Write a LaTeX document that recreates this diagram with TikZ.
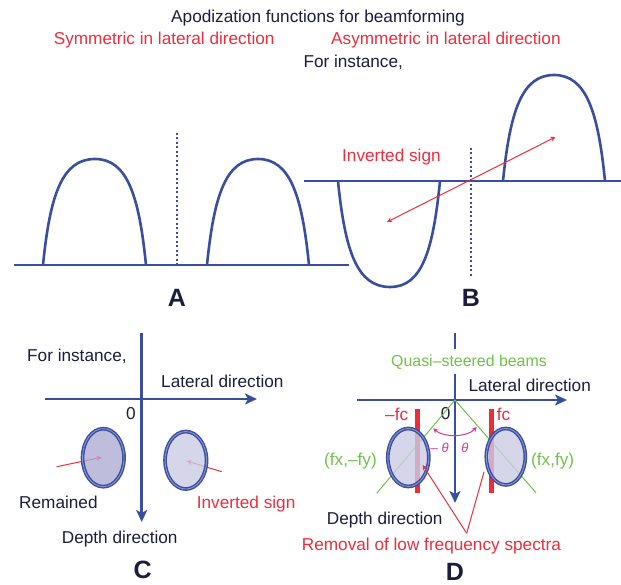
\documentclass[tikz,border=0pt]{standalone}
\usepackage{fontspec}
\setmainfont{Liberation Sans}
\usetikzlibrary{arrows.meta,shapes.geometric}
\definecolor{navy}{HTML}{1C1C3C}
\definecolor{myblue}{HTML}{3A4D9F}
\definecolor{myred}{HTML}{EE2C3C}
\definecolor{mygreen}{HTML}{70C24A}
\definecolor{mymag}{HTML}{CC3B9A}
\definecolor{spotline}{HTML}{8A96D0}
\definecolor{spotdark}{HTML}{AEACD3}
\definecolor{spotlight}{HTML}{CCCCE5}
\begin{document}
\begin{tikzpicture}[x=1pt,y=-1pt,
  txt/.style={font=\fontsize{17.2}{20}\selectfont, text=navy, inner sep=0pt, anchor=base west},
  redtxt/.style={txt, text=myred},
  grntxt/.style={txt, text=mygreen},
  magtxt/.style={font=\fontsize{13}{15}\selectfont, text=mymag, inner sep=0pt, anchor=base west},
  lbl/.style={font=\fontsize{25}{28}\selectfont\bfseries, text=navy, inner sep=0pt, anchor=base},
  hump/.style={draw=myblue, line width=2.6pt},
  baseline/.style={draw=myblue, line width=2.8pt},
  dotline/.style={draw=myblue, line width=1.8pt, dash pattern=on 2pt off 2.5pt},
  axis/.style={draw=myblue, line width=2.8pt, -{Stealth[length=12pt,width=11pt,inset=3pt]}},
  redarrow/.style={draw=myred, line width=1pt, -{Stealth[length=5pt,width=5pt]}},
  spot/.style={ellipse, draw=myblue, line width=1.4pt, double=spotline, double distance=0.9pt, fill opacity=0.8, inner sep=0pt},
  bar/.style={draw=myred, line width=5pt},
  beam/.style={draw=mygreen, line width=1pt},
]
\useasboundingbox (0,0) rectangle (621,585);

% ---------- titles ----------
\node[txt, anchor=base] (title) at (318,22.7) {Apodization functions for beamforming};
\node[redtxt] (sym) at (53.6,45) {Symmetric in lateral direction};
\node[redtxt] (asym) at (331,45) {Asymmetric in lateral direction};
\node[txt] (forB) at (303.3,67.7) {For instance,};

% ---------- panel A ----------
\draw[dotline] (177,133) -- (177,265);
\draw[hump] (43,265) .. controls (50,195) and (62,159) .. (95,159)
            .. controls (127,159) and (139,195) .. (146,265);
\draw[hump] (207,265) .. controls (214,195) and (226,159) .. (258,159)
            .. controls (290,159) and (302,195) .. (309,265);
\draw[baseline] (14,265) -- (349,265);
\node[lbl] (labA) at (177,306) {A};

% ---------- panel B ----------
\draw[dotline] (471,148) -- (471,278);
\draw[hump] (338,181) .. controls (345,251) and (357,287) .. (390,287)
            .. controls (422,287) and (433,251) .. (440,181);
\draw[hump] (503,181) .. controls (510,111) and (522,75) .. (554,75)
            .. controls (586,75) and (598,111) .. (605,181);
\draw[baseline] (303.6,181) -- (621,181);
\coordinate (bL) at (387,222);
\coordinate (bR) at (555.5,137);
\draw[redarrow, {Stealth[length=5pt,width=5pt]}-{Stealth[length=5pt,width=5pt]}] (bL) -- (bR);
\node[redtxt] (invB) at (342,161.7) {Inverted sign};
\node[lbl] (labB) at (471,306) {B};

% ---------- panel C ----------
\coordinate (cTop) at (141.7,333);
\coordinate (cBot) at (141.7,522);
\coordinate (cLeft) at (45,399);
\coordinate (cRight) at (257,399);
\draw[axis] (cTop) -- (cBot);
\draw[axis] (cLeft) -- (cRight);
\node[txt] (forC) at (27,361) {For instance,};
\node[txt] (latC) at (161,387.7) {Lateral direction};
\node[txt, anchor=base] (zeroC) at (131,419) {0};
\coordinate (remStart) at (56.7,466.7);
\coordinate (invStart) at (221.7,471.7);
\draw[redarrow] (remStart) -- (101.7,457.3);
\draw[redarrow] (invStart) -- (186.7,461);
\node[spot, fill=spotdark, minimum width=41.5pt, minimum height=58pt] (eC1) at (103.3,457.7) {};
\node[spot, fill=spotlight, minimum width=41.5pt, minimum height=57.5pt] (eC2) at (185.8,460.3) {};
\node[txt] (rem) at (19,508.3) {Remained};
\node[redtxt] (invC) at (196.7,508.3) {Inverted sign};
\node[txt] (depC) at (61.7,543.3) {Depth direction};
\node[lbl] (labC) at (142.7,578.3) {C};

% ---------- panel D ----------
\coordinate (dTop) at (455,333);
\coordinate (dBot) at (455,503);
\coordinate (dLeft) at (357.3,400);
\coordinate (dRight) at (567,400);
\coordinate (dO) at (455,400);
\draw[axis] (dTop) -- (dBot);
\node[font=\fontsize{15.9}{18}\selectfont, text=mygreen, fill=white, inner xsep=1pt, inner ysep=5pt, anchor=base] (quasi) at (469,366) {Quasi–steered beams};
\draw[axis] (dLeft) -- (dRight);
\node[txt] (latD) at (468.3,391) {Lateral direction};
\node[txt, anchor=base] (zeroD) at (445.7,419) {0};
\coordinate (gL) at (376.7,493.3);
\coordinate (gR) at (536,492.7);
\draw[beam] (dO) -- (gL);
\draw[beam] (dO) -- (gR);
\draw[bar] (417.3,409.3) -- (417.3,493.3);
\draw[bar] (491.7,409.3) -- (491.7,493.3);
\node[spot, fill=spotlight, minimum width=41pt, minimum height=58pt] (eD1) at (408.3,457.5) {};
\node[spot, fill=spotlight, minimum width=39pt, minimum height=56.5pt] (eD2) at (505.8,456.7) {};
\node[redtxt] (mfc) at (385,420.5) {–fc};
\node[redtxt] (pfc) at (496.7,420.5) {fc};
\node[grntxt] (fxm) at (324,465.7) {(fx,–fy)};
\node[grntxt] (fxp) at (531,465.7) {(fx,fy)};
\coordinate (aL) at (433.3,428.3);
\coordinate (aR) at (476.7,427);
\draw[draw=mymag, line width=1pt, {Stealth[length=5pt,width=5pt]}-{Stealth[length=5pt,width=5pt]}]
  (aL) .. controls (443,437.5) and (467,437.5) .. (aR);
\node[magtxt] (thm) at (430.5,452.7) {– \textit{θ}};
\node[magtxt] (thp) at (461.2,452.7) {\textit{θ}};
\coordinate (rApex) at (466.7,533.3);
\draw[redarrow] (rApex) -- (422.7,465);
\draw[draw=myred, line width=1pt] (rApex) -- (484,472);
\node[txt] (depD) at (326.7,524) {Depth direction};
\node[redtxt] (remov) at (301.7,550) {Removal of low frequency spectra};
\node[lbl] (labD) at (455,580) {D};
\end{tikzpicture}
\end{document}
